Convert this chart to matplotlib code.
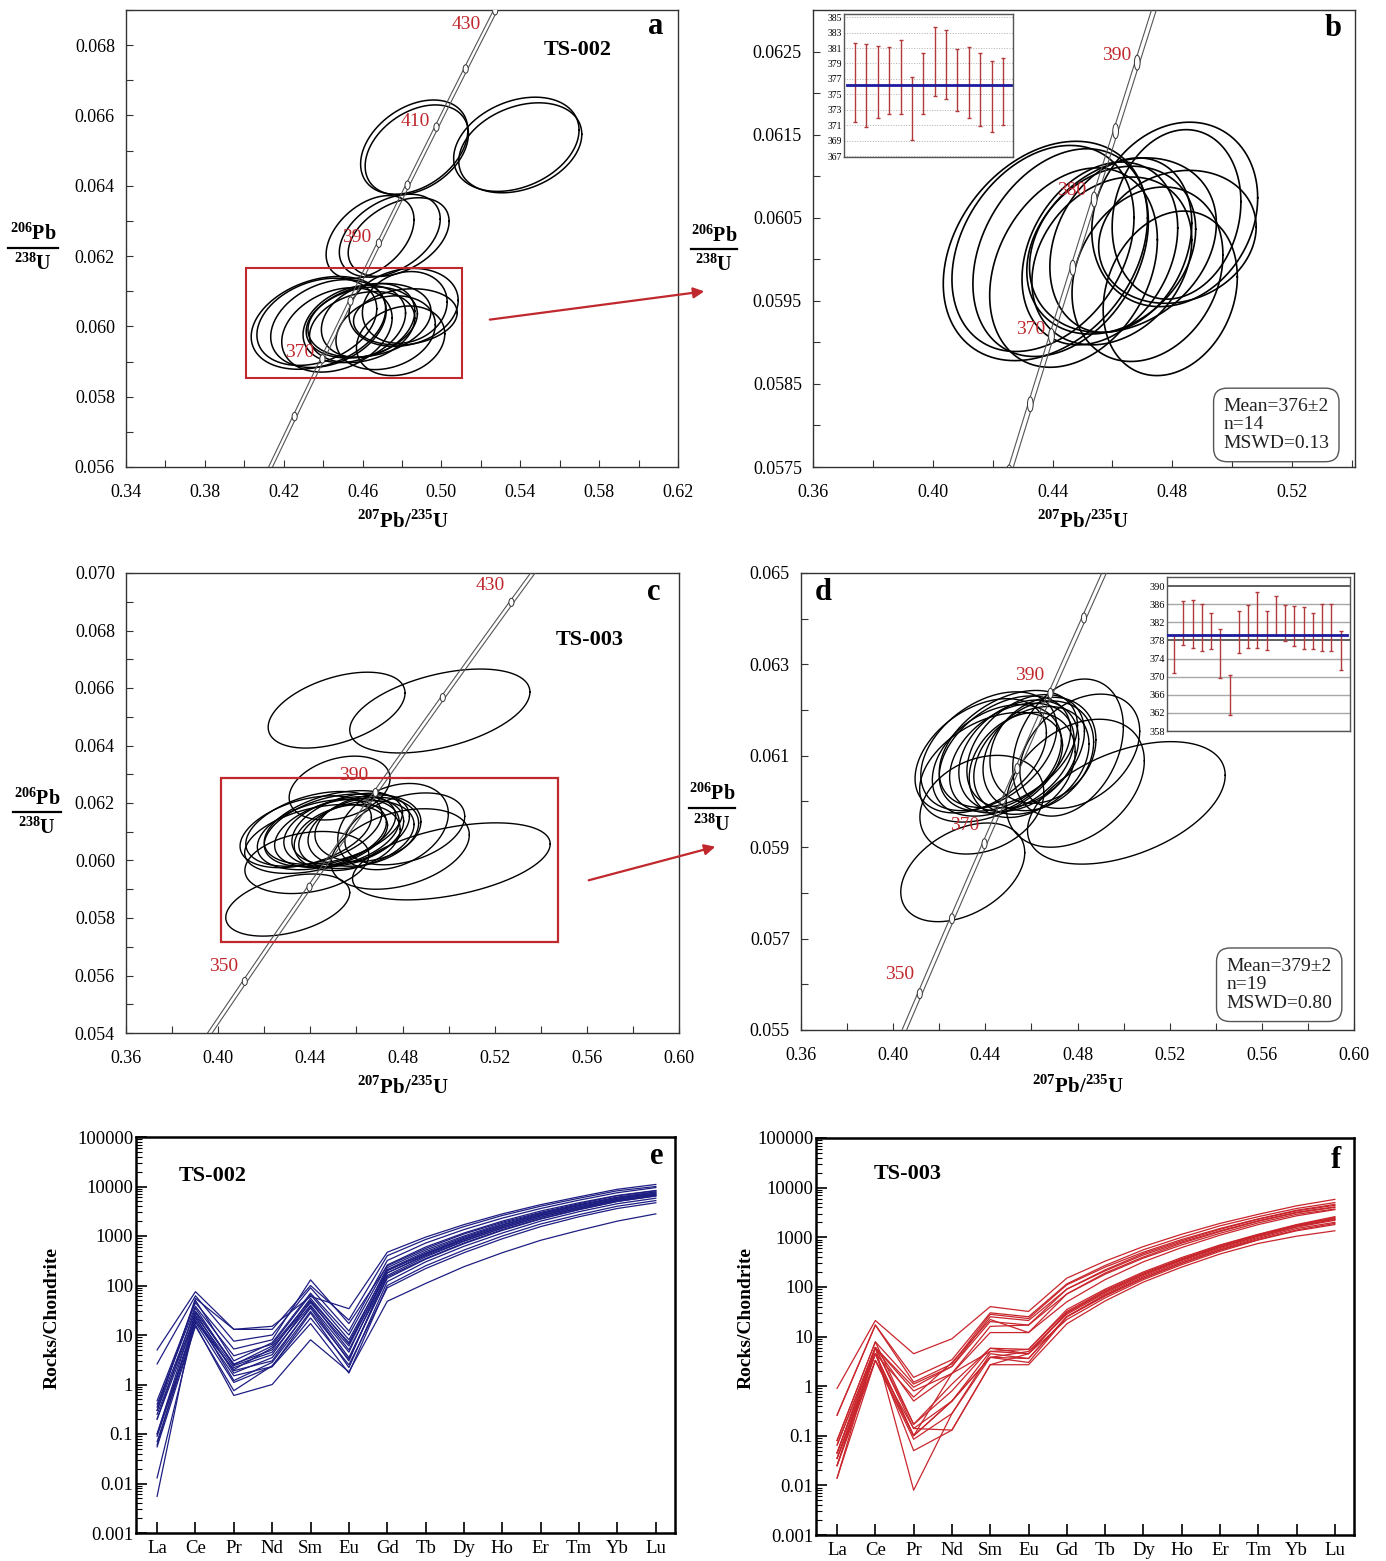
import numpy as np
import matplotlib
matplotlib.use('Agg')
import matplotlib.pyplot as plt
from matplotlib.patches import Rectangle, Ellipse, FancyArrowPatch
from matplotlib.lines import Line2D
from matplotlib.ticker import FixedLocator, FormatStrFormatter, NullLocator

plt.rcParams['font.family'] = ['Liberation Serif', 'DejaVu Serif']
plt.rcParams['mathtext.fontset'] = 'custom'
plt.rcParams['mathtext.rm'] = 'Liberation Serif'
plt.rcParams['mathtext.bf'] = 'Liberation Serif:bold'

W, H = 1386, 1561
RED = '#c0282d'
BAR = '#b23a3a'
BLUE = '#1c1c9c'

# decay constants (per Ma) for the concordia curve
L238 = 1.55125e-4
L235 = 9.8485e-4

# ---- TS-002 concordant spots (panel a lower cluster, panel b)
ts2_x = [0.4376, 0.4368, 0.4427, 0.4470, 0.4558, 0.4596, 0.4635, 0.4598, 0.4808, 0.4814, 0.4817, 0.4793, 0.4628, 0.4717]
ts2_y = [0.06010, 0.06013, 0.06008, 0.05990, 0.06007, 0.06011, 0.06017, 0.05998, 0.06054, 0.06054, 0.06027, 0.05959, 0.06017, 0.05982]
ts2_sx = [0.0341, 0.0304, 0.0293, 0.0280, 0.0260, 0.0282, 0.0312, 0.0267, 0.0277, 0.0215, 0.0263, 0.0224, 0.0237, 0.0252]
ts2_sy = [0.00132, 0.00124, 0.00125, 0.00120, 0.00110, 0.00101, 0.00105, 0.00101, 0.00111, 0.00102, 0.00080, 0.00099, 0.00105, 0.00105]
ts2_rho = [0.3, 0.3, 0.3, 0.28, 0.28, 0.25, 0.25, 0.25, 0.18, 0.15, 0.15, 0.2, 0.25, 0.22]
# TS-002 older / discordant spots (panel a only)
ts2o_x = [0.4862, 0.4875, 0.5380, 0.5400, 0.4638, 0.4738, 0.4783]
ts2o_y = [0.06510, 0.06502, 0.06518, 0.06508, 0.06254, 0.06258, 0.06254]
ts2o_sx = [0.0272, 0.0262, 0.0318, 0.0312, 0.0223, 0.0256, 0.0256]
ts2o_sy = [0.00134, 0.00128, 0.00134, 0.00128, 0.00118, 0.00118, 0.00112]
ts2o_rho = [0.36, 0.36, 0.3, 0.3, 0.42, 0.4, 0.4]

# ---- TS-003 concordant spots (panel c cluster, panel d)
ts3_x = [0.4302, 0.5012, 0.4385, 0.4790, 0.4810, 0.4759, 0.4380, 0.4415, 0.4450, 0.4485,
         0.4515, 0.4545, 0.4575, 0.4600, 0.4630, 0.4425, 0.4500, 0.4560, 0.4650]
ts3_y = [0.05845, 0.05997, 0.05993, 0.06040, 0.06110, 0.06118, 0.06100, 0.06110, 0.06090, 0.06105,
         0.06095, 0.06100, 0.06110, 0.06090, 0.06100, 0.06075, 0.06115, 0.06080, 0.06112]
ts3_sx = [0.0269, 0.0429, 0.0269, 0.0300, 0.0260, 0.0240, 0.0285, 0.0295, 0.0280, 0.0285,
          0.0270, 0.0260, 0.0255, 0.0250, 0.0240, 0.0310, 0.0300, 0.0230, 0.0230]
ts3_sy = [0.00108, 0.00134, 0.00108, 0.00140, 0.00125, 0.00150, 0.00125, 0.00130, 0.00122, 0.00126,
          0.00120, 0.00122, 0.00124, 0.00118, 0.00120, 0.00120, 0.00128, 0.00115, 0.00116]
ts3_rho = [0.4, 0.45, 0.25, 0.35, 0.35, 0.3, 0.4, 0.4, 0.35, 0.4,
           0.35, 0.3, 0.35, 0.3, 0.25, 0.4, 0.4, 0.25, 0.2]
# TS-003 older / discordant spots (panel c only)
ts3o_x = [0.4514, 0.4962, 0.4527]
ts3o_y = [0.06523, 0.06520, 0.06252]
ts3o_sx = [0.0297, 0.0391, 0.0219]
ts3o_sy = [0.00132, 0.00146, 0.00111]
ts3o_rho = [0.45, 0.45, 0.3]

# ---- 206Pb/238U ages (Ma), 2 sigma bars in the insets
ts2_age_hi = [381.6, 381.5, 381.2, 381.1, 382.1, 377.2, 380.3, 383.7, 383.3, 380.9, 381.1, 380.4, 379.3, 379.7]
ts2_age_lo = [371.4, 370.8, 372.0, 372.4, 372.5, 369.1, 372.4, 374.8, 374.4, 372.8, 372.0, 370.9, 370.1, 371.0]
ts2_mean = 376.2
ts3_age_hi = [379.2, 386.8, 387.0, 386.1, 384.1, 380.6, 370.4, 384.4, 385.8, 388.6,
              384.4, 387.8, 385.9, 385.7, 385.3, 384.0, 386.1, 386.1, 380.1]
ts3_age_lo = [370.7, 377.0, 376.4, 375.6, 376.2, 369.7, 361.6, 375.3, 376.4, 376.3,
              375.8, 379.2, 377.9, 376.7, 376.0, 376.1, 375.7, 375.7, 371.4]
ts3_mean = 379.3

# ---- chondrite-normalised REE
ree = ['La', 'Ce', 'Pr', 'Nd', 'Sm', 'Eu', 'Gd', 'Tb', 'Dy', 'Ho', 'Er', 'Tm', 'Yb', 'Lu']
ree_ts2 = [
    [5.0, 75, 13, 15, 60, 34, 470, 950, 1700, 2800, 4300, 6200, 8800, 11000],
    [2.6, 62, 7.5, 10, 90, 12, 320, 720, 1350, 2300, 3600, 5300, 7500, 9500],
    [0.47, 45, 5.2, 8, 130, 17, 250, 560, 1100, 1900, 3000, 4500, 6500, 8200],
    [0.40, 38, 3.8, 6.5, 65, 8, 210, 480, 950, 1700, 2800, 4200, 6000, 7700],
    [0.30, 30, 2.6, 5, 55, 6.6, 180, 420, 850, 1550, 2600, 3900, 5600, 7200],
    [0.25, 25, 2.2, 4, 48, 5, 160, 380, 780, 1450, 2400, 3700, 5300, 6800],
    [0.20, 22, 1.9, 3, 38, 3.5, 140, 340, 700, 1300, 2200, 3400, 5000, 6400],
    [0.10, 20, 1.5, 2.3, 28, 2.2, 120, 300, 620, 1150, 2000, 3100, 4500, 5800],
    [0.09, 18, 1.1, 2.3, 17, 1.7, 100, 250, 520, 1000, 1750, 2700, 4000, 5200],
    [0.07, 16, 0.6, 1.0, 8, 1.8, 48, 110, 240, 460, 820, 1300, 2000, 2800],
    [0.055, 15, 0.75, 2.4, 22, 2.5, 90, 220, 460, 880, 1550, 2450, 3600, 4700],
    [0.013, 19, 2.0, 5.5, 45, 6, 200, 450, 900, 1650, 2700, 4100, 5800, 7400],
    [0.0055, 30, 2.5, 6, 50, 7, 230, 520, 1000, 1800, 2900, 4300, 6100, 7800],
    [0.35, 50, 3.0, 7, 70, 10, 260, 600, 1150, 2000, 3200, 4700, 6600, 8300],
    [0.20, 35, 2.4, 4.5, 40, 4.5, 200, 440, 860, 1550, 2550, 3850, 5500, 7000],
    [0.10, 28, 1.7, 3.5, 35, 3.0, 180, 400, 800, 1450, 2400, 3600, 5200, 6700],
    [0.30, 55, 13, 13, 100, 20, 400, 850, 1550, 2600, 4000, 5800, 8200, 10000],
    [0.06, 24, 1.2, 2.8, 30, 3.2, 150, 350, 720, 1350, 2250, 3450, 5000, 6500],
]
ree_ts3 = [
    [0.9, 21, 4.5, 9, 40, 32, 150, 330, 650, 1150, 1900, 2900, 4300, 5800],
    [0.26, 17, 1.5, 3.4, 30, 25, 115, 270, 560, 1000, 1700, 2600, 3800, 5000],
    [0.08, 7.8, 1.1, 2.5, 25, 21, 90, 220, 470, 850, 1450, 2300, 3400, 4400],
    [0.065, 6, 0.95, 2.5, 20, 17, 72, 190, 400, 760, 1300, 2100, 3100, 4000],
    [0.045, 6, 0.8, 1.8, 16, 17, 90, 210, 440, 800, 1350, 2150, 3200, 4100],
    [0.035, 4.5, 0.6, 3.0, 22, 12, 72, 180, 380, 700, 1200, 1950, 2900, 3700],
    [0.025, 6, 0.5, 1.8, 12, 12, 50, 140, 320, 620, 1100, 1800, 2700, 3600],
    [0.26, 17, 1.2, 2.8, 28, 23, 110, 250, 500, 900, 1500, 2350, 3500, 4600],
    [0.08, 7.8, 0.17, 1.1, 5.8, 5.5, 35, 90, 200, 390, 700, 1150, 1800, 2600],
    [0.065, 6, 0.14, 0.5, 5, 4.5, 30, 80, 180, 360, 650, 1100, 1750, 2500],
    [0.045, 4.5, 0.1, 0.5, 3.8, 5, 28, 75, 170, 340, 620, 1050, 1650, 2300],
    [0.035, 3.3, 0.085, 0.28, 4.5, 3.6, 25, 70, 160, 320, 590, 1000, 1600, 2200],
    [0.025, 4.5, 0.05, 0.13, 2.7, 2.7, 18, 52, 125, 250, 460, 750, 1050, 1350],
    [0.014, 6, 0.008, 0.28, 3.8, 3.6, 25, 68, 150, 300, 550, 900, 1400, 1900],
    [0.014, 3.3, 0.14, 0.13, 2.7, 4.5, 22, 60, 140, 280, 520, 880, 1350, 1800],
    [0.035, 4.5, 0.1, 1.8, 5, 5.5, 32, 85, 190, 370, 680, 1120, 1750, 2400],
    [0.045, 6, 0.17, 0.8, 5.8, 4.5, 30, 80, 180, 350, 640, 1080, 1700, 2300],
    [0.025, 3.3, 0.1, 0.5, 3.8, 3.0, 25, 65, 150, 300, 560, 950, 1500, 2000],
]

fig = plt.figure(figsize=(W / 100, H / 100), dpi=100)


def fx(px):
    return px / W


def fy(py):
    return 1 - py / H


def rect(l, t, r, b):
    return [l / W, 1 - b / H, (r - l) / W, (b - t) / H]


def ftext(px, py, s, **kw):
    fig.text(fx(px), fy(py), s, ha='center', va='center', **kw)


def ellipses(ax, cx, cy, sx, sy, rho, lw=1.1):
    t = np.linspace(0, 2 * np.pi, 240)
    for x0, y0, a, b, r in zip(cx, cy, sx, sy, rho):
        ax.plot(x0 + a * np.cos(t), y0 + b * (r * np.cos(t) + np.sqrt(1 - r * r) * np.sin(t)),
                color='black', lw=lw, zorder=2)


def concordia(ax, dx, mk_ages, mk_w, mk_h, lab_ages, lab_off):
    t = np.linspace(300, 460, 400)
    x = np.exp(L235 * t) - 1
    y = np.exp(L238 * t) - 1
    for s in (-1, 1):
        ax.plot(x + s * dx, y, color='#555555', lw=0.8, zorder=3)
    ma = np.array(mk_ages, float)
    for xa, ya in zip(np.exp(L235 * ma) - 1, np.exp(L238 * ma) - 1):
        ax.add_patch(Ellipse((xa, ya), mk_w, mk_h, fc='white', ec='#333333', lw=0.7, zorder=4))
    for a, (ox, oy) in zip(lab_ages, lab_off):
        ax.annotate(str(a), (np.exp(L235 * a) - 1, np.exp(L238 * a) - 1), xytext=(ox, oy),
                    textcoords='offset pixels', color=RED, fontsize=14, ha='center', va='center',
                    zorder=5, annotation_clip=False)


def style_conc(ax, xlim, ylim, xmaj, ymaj, xmin, ymin, yfmt):
    ax.set_xlim(xlim)
    ax.set_ylim(ylim)
    ax.xaxis.set_major_locator(FixedLocator(xmaj))
    ax.xaxis.set_minor_locator(FixedLocator(xmin))
    ax.yaxis.set_major_locator(FixedLocator(ymaj))
    ax.yaxis.set_minor_locator(FixedLocator(ymin))
    ax.xaxis.set_major_formatter(FormatStrFormatter('%.2f'))
    ax.yaxis.set_major_formatter(FormatStrFormatter(yfmt))
    ax.tick_params(which='both', direction='in', length=5, width=0.8, labelsize=13, color='#333333')
    ax.tick_params(axis='x', pad=12)
    ax.tick_params(axis='y', pad=8)
    for sp in ax.spines.values():
        sp.set_linewidth(1.0)
        sp.set_color('#333333')


def frac_label(cx, ty, ly, by, half):
    ftext(cx, ty, r'$^{\mathbf{206}}$Pb', fontsize=14.5, fontweight='bold')
    fig.add_artist(Line2D([fx(cx - half), fx(cx + half)], [fy(ly), fy(ly)], color='black', lw=1.6))
    ftext(cx, by, r'$^{\mathbf{238}}$U', fontsize=14.5, fontweight='bold')


XLAB = r'$^{\mathbf{207}}$Pb/$^{\mathbf{235}}$U'


def age_inset(r, hi, lo, mean, ylim, yticks, xlim, solid, blue_span, lsize):
    ax = fig.add_axes(r)
    pos = np.arange(1, len(hi) + 1)
    for v in yticks:
        if solid:
            dark = v in (378, 390)
            ax.axhline(v, color='#333333' if dark else '#a8a8a8', lw=1.1 if dark else 1.0, zorder=1)
        else:
            ax.axhline(v, color='#b0b0b0', lw=0.7, ls=':', zorder=1)
    ax.vlines(pos, lo, hi, color=BAR, lw=1.0, zorder=2)
    ax.plot(pos, hi, ls='none', marker='_', ms=3, mew=1.0, color=BAR, zorder=2)
    ax.plot(pos, lo, ls='none', marker='_', ms=3, mew=1.0, color=BAR, zorder=2)
    ax.axhline(mean, xmin=blue_span[0], xmax=blue_span[1], color=BLUE, lw=2.0, zorder=3)
    ax.set_xlim(xlim)
    ax.set_ylim(ylim)
    ax.set_xticks([])
    ax.set_yticks(yticks)
    ax.tick_params(axis='y', length=0, pad=1.5, labelsize=lsize)
    for sp in ax.spines.values():
        sp.set_color('#555555')
        sp.set_linewidth(1.0)
    return ax


def stats_box(ax, x, y, s):
    ax.text(x, y, s, transform=ax.transAxes, ha='left', va='center', fontsize=14,
            linespacing=1.12, color='#222222', zorder=6,
            bbox=dict(boxstyle='round,pad=0.5,rounding_size=0.7', fc='white', ec='#555555', lw=1.0))


# ------------------------------------------------------------------ panel a
axa = fig.add_axes(rect(126, 10, 678, 467))
ellipses(axa, ts2o_x, ts2o_y, ts2o_sx, ts2o_sy, ts2o_rho)
ellipses(axa, ts2_x, ts2_y, ts2_sx, ts2_sy, ts2_rho)
concordia(axa, 0.001, [360, 370, 380, 390, 400, 410, 420, 430], 0.0026, 0.00024,
          [370, 390, 410, 430], [(-23, 6), (-22, 6), (-21, 6), (-29, -14)])
axa.add_patch(Rectangle((0.4008, 0.05853), 0.1095, 0.00313, fill=False, ec=RED, lw=1.5, zorder=6))
style_conc(axa, (0.34, 0.62), (0.056, 0.069),
           np.arange(0.34, 0.63, 0.04), np.arange(0.056, 0.0691, 0.002),
           np.arange(0.36, 0.62, 0.04), np.arange(0.057, 0.0691, 0.002), '%.3f')
frac_label(33, 234, 248, 264, 25)
ftext(403, 521, XLAB, fontsize=15, fontweight='bold')
ftext(578, 50, 'TS-002', fontsize=16, fontweight='bold')
ftext(656, 27, 'a', fontsize=22, fontweight='bold')

# ------------------------------------------------------------------ panel b
axb = fig.add_axes(rect(813, 10, 1355, 467))
ellipses(axb, ts2_x, ts2_y, ts2_sx, ts2_sy, ts2_rho, lw=1.2)
concordia(axb, 0.0008, [360, 365, 370, 375, 380, 385, 390, 395], 0.0019, 0.00018,
          [370, 380, 390], [(-21, 7), (-22, 9), (-21, 7)])
style_conc(axb, (0.36, 0.541), (0.0575, 0.0630),
           np.arange(0.36, 0.53, 0.04), np.arange(0.0575, 0.0630, 0.001),
           np.arange(0.38, 0.541, 0.04), np.arange(0.0580, 0.0630, 0.001), '%.4f')
frac_label(714, 236, 249, 265, 23)
ftext(1083, 521, XLAB, fontsize=15, fontweight='bold')
ftext(1333, 29, 'b', fontsize=22, fontweight='bold')
stats_box(axb, 0.757, 0.092, 'Mean=376\u00b12\nn=14\nMSWD=0.13')
age_inset(rect(844, 14, 1013, 157), ts2_age_hi, ts2_age_lo, ts2_mean, (366.9, 385.4),
          list(range(367, 386, 2)), (0.03, 14.88), False, (0.02, 0.99), 7)

# ------------------------------------------------------------------ panel c
axc = fig.add_axes(rect(126, 573, 679, 1033))
ellipses(axc, ts3o_x, ts3o_y, ts3o_sx, ts3o_sy, ts3o_rho, lw=1.0)
ellipses(axc, ts3_x, ts3_y, ts3_sx, ts3_sy, ts3_rho, lw=1.0)
concordia(axc, 0.001, [350, 370, 390, 410, 430], 0.0022, 0.00028,
          [350, 390, 430], [(-21, 15), (-22, 17), (-21, 17)])
axc.add_patch(Rectangle((0.4011, 0.05717), 0.1465, 0.0057, fill=False, ec=RED, lw=1.6, zorder=6))
style_conc(axc, (0.36, 0.60), (0.054, 0.070),
           np.arange(0.36, 0.61, 0.04), np.arange(0.054, 0.0701, 0.002),
           np.arange(0.38, 0.60, 0.04), np.arange(0.055, 0.070, 0.002), '%.3f')
frac_label(37, 799, 812, 828, 24)
ftext(403, 1088, XLAB, fontsize=15, fontweight='bold')
ftext(590, 640, 'TS-003', fontsize=16, fontweight='bold')
ftext(654, 593, 'c', fontsize=22, fontweight='bold')

# ------------------------------------------------------------------ panel d
axd = fig.add_axes(rect(801, 573, 1354, 1030))
ellipses(axd, ts3_x, ts3_y, ts3_sx, ts3_sy, ts3_rho, lw=1.0)
concordia(axd, 0.001, [340, 350, 360, 370, 380, 390, 400, 410], 0.0022, 0.00022,
          [350, 370, 390], [(-20, 19), (-20, 18), (-21, 18)])
style_conc(axd, (0.36, 0.60), (0.055, 0.065),
           np.arange(0.36, 0.61, 0.04), np.arange(0.055, 0.0651, 0.002),
           np.arange(0.38, 0.60, 0.04), np.arange(0.056, 0.065, 0.002), '%.3f')
frac_label(712, 794, 808, 825, 23)
ftext(1078, 1086, XLAB, fontsize=15, fontweight='bold')
ftext(823, 592, 'd', fontsize=22, fontweight='bold')
stats_box(axd, 0.769, 0.099, 'Mean=379\u00b12\nn=19\nMSWD=0.80')
age_inset(rect(1167, 577, 1350, 731), ts3_age_hi, ts3_age_lo, ts3_mean, (358, 392),
          list(range(358, 391, 4)), (0.24, 20.0), True, (0.0, 0.985), 7.5)

# arrows linking the boxes to the enlarged views
for (x0, y0), (x1, y1) in [((487, 320), (707, 291)), ((586, 881), (718, 846))]:
    fig.add_artist(FancyArrowPatch((fx(x0), fy(y0)), (fx(x1), fy(y1)), transform=fig.transFigure,
                                   arrowstyle='-|>', mutation_scale=16, color=RED, lw=1.6))


# ------------------------------------------------------------------ panels e, f
def ree_panel(r, data, color, sample, letter, sx, sy, lx, ly, ylab_x):
    ax = fig.add_axes(r)
    xs = np.arange(len(ree))
    for row in data:
        ax.plot(xs, row, color=color, lw=0.9)
    ax.set_yscale('log')
    ax.set_ylim(0.001, 100000)
    ax.set_xlim(-0.55, 13.5)
    ax.set_xticks(xs)
    ax.set_xticklabels(ree)
    ax.xaxis.set_minor_locator(NullLocator())
    yt = [0.001, 0.01, 0.1, 1, 10, 100, 1000, 10000, 100000]
    ax.set_yticks(yt)
    ax.set_yticklabels(['0.001', '0.01', '0.1', '1', '10', '100', '1000', '10000', '100000'])
    ax.tick_params(which='major', direction='in', length=8, width=1.2, labelsize=13.5)
    ax.tick_params(which='minor', direction='in', length=4, width=0.8)
    ax.tick_params(axis='x', pad=5)
    ax.tick_params(axis='y', pad=2)
    for sp in ax.spines.values():
        sp.set_linewidth(1.8)
    ftext(sx, sy, sample, fontsize=16, fontweight='bold')
    ftext(lx, ly, letter, fontsize=22, fontweight='bold')
    ftext(ylab_x, 1318, 'Rocks/Chondrite', fontsize=14, fontweight='bold', rotation=90)
    return ax


ree_panel(rect(136, 1137, 675, 1533), ree_ts2, '#1e1e82', 'TS-002', 'e', 213, 1176, 657, 1157, 52)
ree_panel(rect(816, 1138, 1354, 1535), ree_ts3, '#c8262c', 'TS-003', 'f', 908, 1174, 1336, 1161, 746)

fig.savefig('out.png', dpi=100)
